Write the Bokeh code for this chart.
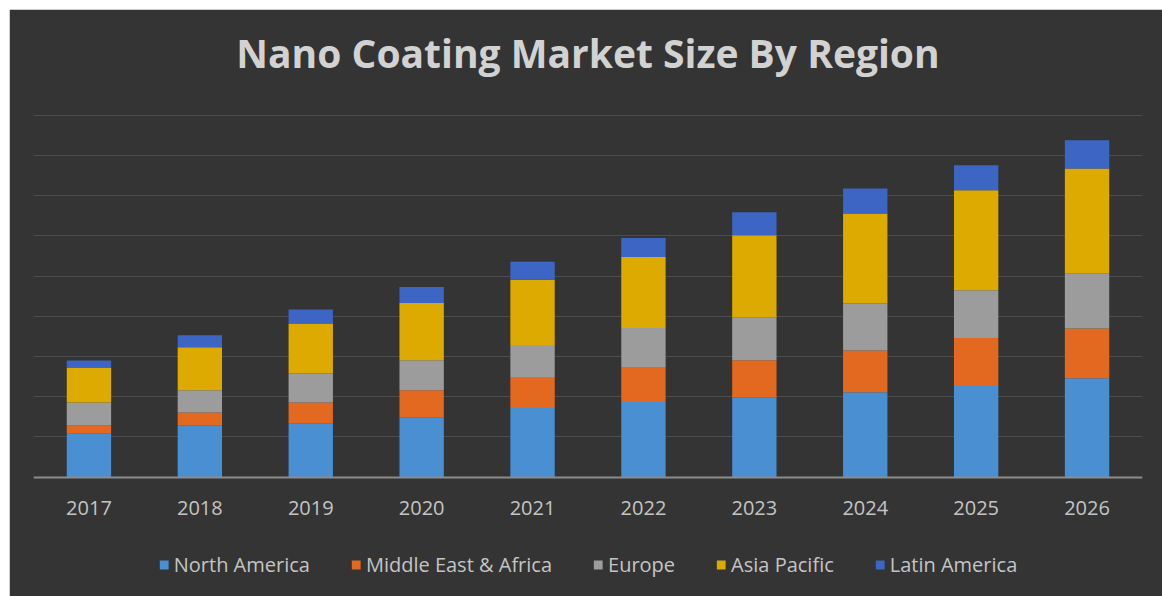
from bokeh.plotting import figure
from bokeh.models import FactorRange, Range1d, FixedTicker, Legend, LegendItem, Title
from bokeh.embed import file_html
from bokeh.resources import INLINE

years = ["2017", "2018", "2019", "2020", "2021", "2022", "2023", "2024", "2025", "2026"]
regions = ["North America", "Middle East & Africa", "Europe", "Asia Pacific", "Latin America"]
north_america = [1.09, 1.29, 1.34, 1.49, 1.72, 1.87, 1.99, 2.11, 2.29, 2.46]
middle_east_africa = [0.20, 0.32, 0.52, 0.67, 0.75, 0.87, 0.92, 1.04, 1.17, 1.24]
europe = [0.57, 0.55, 0.72, 0.75, 0.82, 0.97, 1.07, 1.17, 1.19, 1.37]
asia_pacific = [0.87, 1.07, 1.24, 1.42, 1.62, 1.77, 2.04, 2.24, 2.49, 2.61]
latin_america = [0.17, 0.30, 0.35, 0.40, 0.45, 0.47, 0.57, 0.62, 0.62, 0.70]
colors = ["#4a8fd2", "#e2691f", "#9c9c9c", "#dcaa00", "#3d66c4"]
grid_ticks = [1, 2, 3, 4, 5, 6, 7, 8, 9]

data = {"year": years,
        regions[0]: north_america,
        regions[1]: middle_east_africa,
        regions[2]: europe,
        regions[3]: asia_pacific,
        regions[4]: latin_america}

BG = "#343434"
p = figure(x_range=FactorRange(*years), y_range=Range1d(-2.97, 9.57),
           frame_width=1109, frame_height=504, output_backend="svg", toolbar_location=None,
           background_fill_color=BG, border_fill_color=BG,
           min_border_left=24, min_border_right=20, min_border_top=10, min_border_bottom=0)
p.margin = (9, 0, 0, 9)
p.outline_line_color = BG
p.outline_line_alpha = 1
p.outline_line_width = 3

title = Title(text="Nano Coating Market Size By Region", align="center",
              text_font="Open Sans", text_font_size="39px", text_font_style="bold",
              text_color="#d2d2d2", standoff=28)
p.add_layout(title, "above")

renderers = p.vbar_stack(regions, x="year", width=0.4, color=colors, source=data, line_color=None)

p.yaxis.visible = False
p.ygrid.ticker = FixedTicker(ticks=grid_ticks)
p.ygrid.grid_line_color = "#4d4d4d"
p.ygrid.grid_line_width = 1
p.xgrid.grid_line_color = None

p.xaxis.fixed_location = 0
p.xaxis.axis_line_color = "#8c8c8c"
p.xaxis.axis_line_width = 2
p.xaxis.major_tick_line_color = None
p.xaxis.minor_tick_line_color = None
p.xaxis.major_label_text_font = "Open Sans"
p.xaxis.major_label_text_font_size = "20px"
p.xaxis.major_label_text_color = "#c4c4c4"
p.xaxis.major_label_standoff = 18
p.x_range.range_padding = 0
p.x_range.group_padding = 0

items = [LegendItem(label=r, renderers=[rr]) for r, rr in zip(regions, renderers)]
legend = Legend(items=items, orientation="horizontal", location="bottom_center",
                background_fill_alpha=0, border_line_color=None,
                label_text_font="Open Sans", label_text_font_size="20px",
                label_text_color="#c4c4c4", glyph_width=11, glyph_height=11,
                label_standoff=5, spacing=40, margin=18, padding=0)
p.add_layout(legend, "center")

open("out.html", "w").write(file_html(p, INLINE))
